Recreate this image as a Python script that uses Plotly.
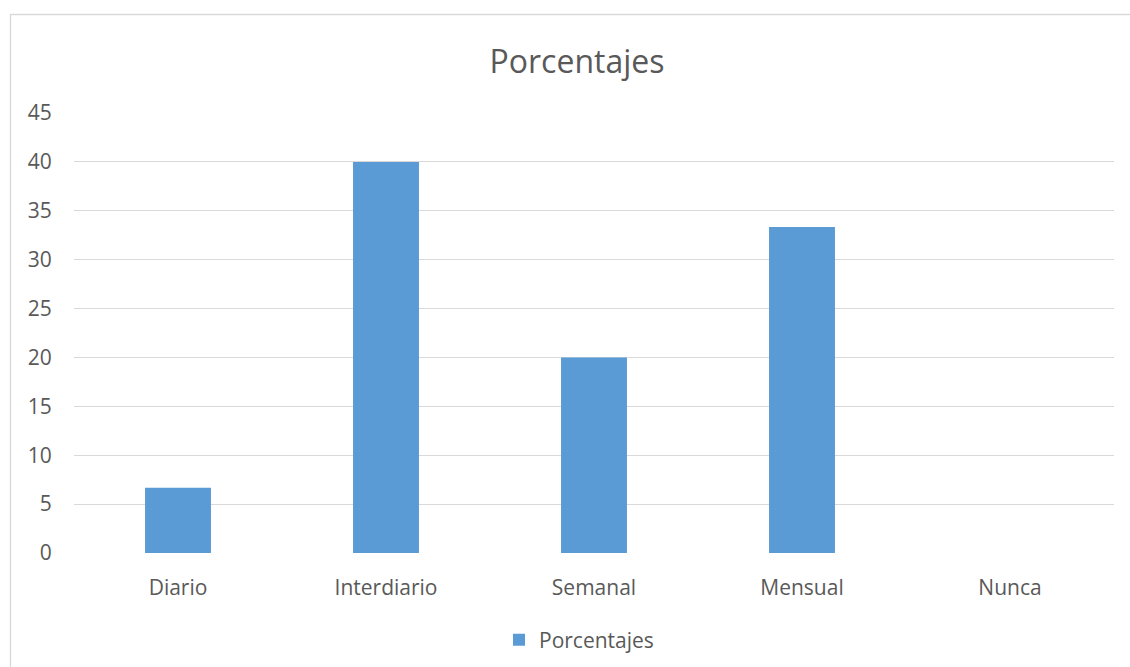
import plotly.graph_objects as go

categories = ["Diario", "Interdiario", "Semanal", "Mensual", "Nunca"]
values = [6.67, 40, 20, 33.33, 0]
series_name = "Porcentajes"
y_ticks = [0, 5, 10, 15, 20, 25, 30, 35, 40, 45]

W, H = 1130, 667
L, T = 74, 113
R = W - 1114
B = H - 553
pw, ph = W - L - R, H - T - B

fig = go.Figure()
fig.add_trace(go.Bar(x=categories, y=values, name=series_name,
                     marker=dict(color="#5b9bd5", line=dict(width=0)),
                     showlegend=True))

font_family = "Open Sans, Noto Sans, sans-serif"
fig.update_layout(
    width=W, height=H,
    margin=dict(l=L, r=R, t=T, b=B, autoexpand=False),
    paper_bgcolor="white", plot_bgcolor="white",
    bargap=0.683,
    title=dict(text="Porcentajes", x=577 / W, xanchor="center", xref="container",
               y=1 - 62 / H, yanchor="middle", yref="container",
               font=dict(family=font_family, size=32, color="#595959")),
    xaxis=dict(showgrid=False, showline=False, zeroline=False,
               ticks="outside", ticklen=16, tickcolor="rgba(0,0,0,0)",
               tickfont=dict(family=font_family, size=21, color="#595959")),
    yaxis=dict(range=[0, 45], tickvals=y_ticks, showgrid=True,
               gridcolor="#d9d9d9", gridwidth=1, zeroline=False, showline=False,
               ticks="outside", ticklen=17, tickcolor="rgba(0,0,0,0)",
               tickfont=dict(family=font_family, size=21, color="#595959")),
    legend=dict(orientation="h", x=0.5 - 15 / pw, xanchor="center",
                y=-(640 - 553) / ph, yanchor="middle",
                font=dict(family=font_family, size=21, color="#595959")),
    shapes=[dict(type="rect", xref="paper", yref="paper",
                 x0=(10.5 - L) / pw, x1=(1140 - L) / pw,
                 y0=-(680 - 553) / ph, y1=(553 - 14.5) / ph,
                 line=dict(color="#d9d9d9", width=1.3), fillcolor="rgba(0,0,0,0)",
                 layer="below")],
)

fig.write_html("out.html", config={"displayModeBar": False},
               post_script="document.body.style.margin='0';document.body.style.overflow='hidden';")
